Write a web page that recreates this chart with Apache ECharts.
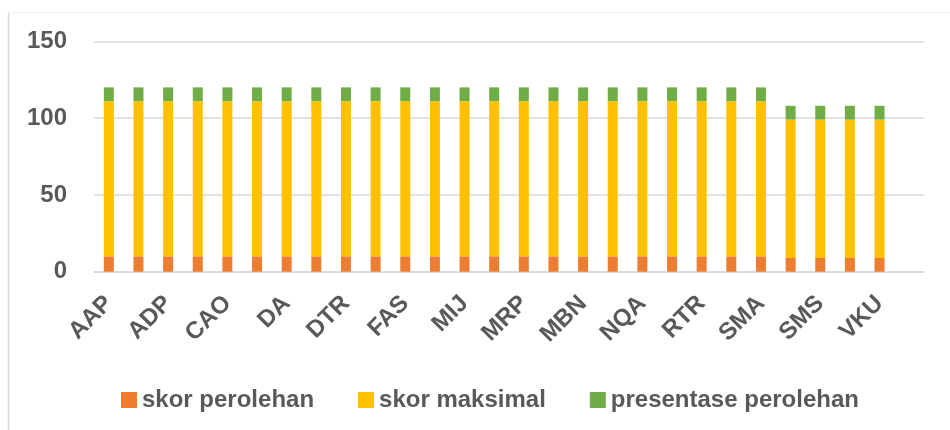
<!DOCTYPE html>
<html>
<head>
<meta charset="utf-8">
<script src="https://cdn.jsdelivr.net/npm/echarts@6/dist/echarts.min.js"></script>
<style>
html,body{margin:0;padding:0;background:#fff;}
#chart{width:950px;height:430px;}
</style>
</head>
<body>
<div id="chart"></div>
<script>
const categories = ['AAP','','ADP','','CAO','','DA','','DTR','','FAS','','MIJ','','MRP','','MBN','','NQA','','RTR','','SMA','','SMS','','VKU',''];
const skorPerolehan = [10,10,10,10,10,10,10,10,10,10,10,10,10,10,10,10,10,10,10,10,10,10,10,9,9,9,9,null];
const skorMaksimal = [101,101,101,101,101,101,101,101,101,101,101,101,101,101,101,101,101,101,101,101,101,101,101,90,90,90,90,null];
const presentasePerolehan = [9,9,9,9,9,9,9,9,9,9,9,9,9,9,9,9,9,9,9,9,9,9,9,9,9,9,9,null];
const yTicks = {min: 0, max: 150, interval: 50};

const FONT = '"Liberation Sans", Arial, sans-serif';
const TXT = '#595959';

const chart = echarts.init(document.getElementById('chart'), null, {renderer: 'canvas'});
chart.setOption({
  animation: false,
  backgroundColor: '#fff',
  graphic: [
    {type: 'line', shape: {x1: 8.5, y1: 12, x2: 8.5, y2: 430}, style: {stroke: '#D9D9D9', lineWidth: 1.5}},
    {type: 'line', shape: {x1: 8, y1: 12.5, x2: 950, y2: 12.5}, style: {stroke: '#F2F2F2', lineWidth: 1}}
  ],
  grid: {left: 94, right: 26, top: 41.3, bottom: 158.3, containLabel: false},
  legend: {
    left: 116, top: 383,
    itemWidth: 16, itemHeight: 16, itemGap: 44,
    icon: 'rect',
    textStyle: {fontFamily: FONT, fontWeight: 'bold', fontSize: 24, color: TXT},
    data: ['skor perolehan', 'skor maksimal', 'presentase perolehan']
  },
  xAxis: {
    type: 'category',
    data: categories,
    axisLine: {show: true, lineStyle: {color: '#D9D9D9', width: 1.5}},
    axisTick: {show: false},
    axisLabel: {
      interval: 1, rotate: 45, margin: 28,
      fontFamily: FONT, fontWeight: 'bold', fontSize: 24, color: TXT
    }
  },
  yAxis: {
    type: 'value',
    min: yTicks.min, max: yTicks.max, interval: yTicks.interval,
    axisLine: {show: false},
    axisTick: {show: false},
    splitLine: {lineStyle: {color: '#D9D9D9', width: 1.5}},
    axisLabel: {margin: 27, fontFamily: FONT, fontWeight: 'bold', fontSize: 24, color: TXT}
  },
  series: [
    {name: 'skor perolehan', type: 'bar', stack: 'a', data: skorPerolehan, barWidth: 10, itemStyle: {color: '#ED7D31'}},
    {name: 'skor maksimal', type: 'bar', stack: 'a', data: skorMaksimal, barWidth: 10, itemStyle: {color: '#FFC000'}},
    {name: 'presentase perolehan', type: 'bar', stack: 'a', data: presentasePerolehan, barWidth: 10, itemStyle: {color: '#70AD47'}}
  ]
});
</script>
</body>
</html>
